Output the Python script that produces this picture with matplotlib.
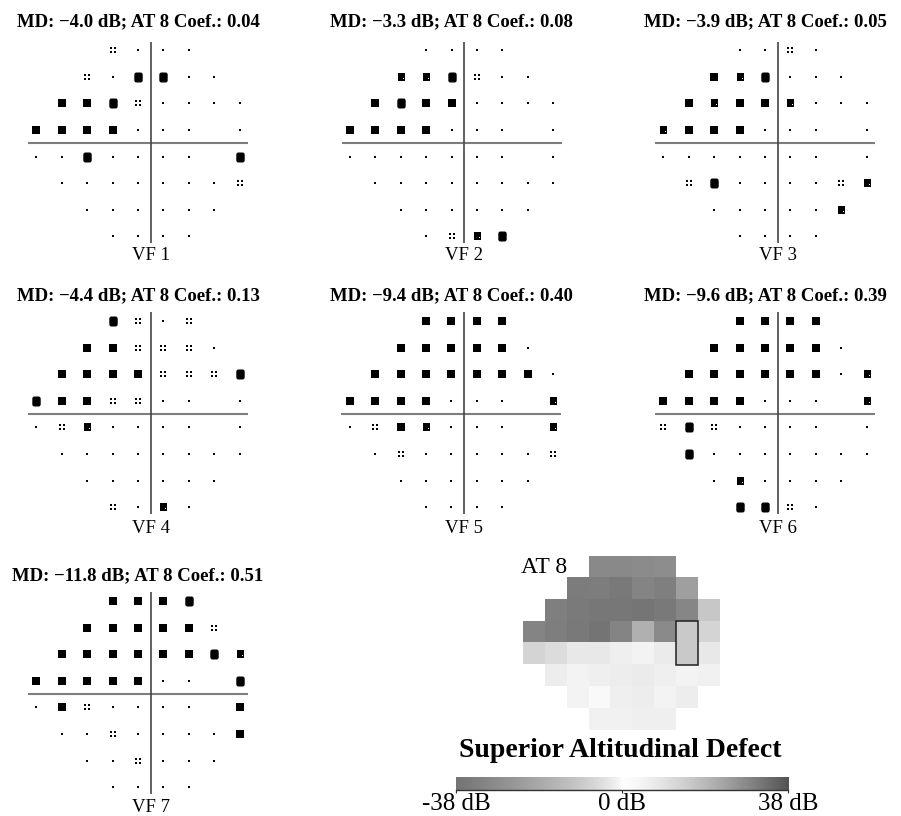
import numpy as np
import matplotlib
matplotlib.use('Agg')
import matplotlib.pyplot as plt
from matplotlib.path import Path
from matplotlib.colors import LinearSegmentedColormap
from matplotlib.patches import Rectangle

plt.rcParams['font.family'] = ['Liberation Serif', 'DejaVu Serif']

W, H = 901, 816

# ---------------- data ----------------
# 24-2 layout (columns present in each of the 8 rows; blind spot at column 7, rows 3-4)
row_cols = [
    [3, 4, 5, 6],
    [2, 3, 4, 5, 6, 7],
    [1, 2, 3, 4, 5, 6, 7, 8],
    [0, 1, 2, 3, 4, 5, 6, 8],
    [0, 1, 2, 3, 4, 5, 6, 8],
    [1, 2, 3, 4, 5, 6, 7, 8],
    [2, 3, 4, 5, 6, 7],
    [3, 4, 5, 6],
]

# probability symbol level: 0 = n.s., 1 = p<5%, 2 = p<2%, 3 = p<1%, 4 = p<0.5%
vf1 = [[1, 0, 0, 0],
       [1, 0, 3, 3, 0, 0],
       [4, 4, 3, 1, 0, 0, 0, 0],
       [4, 4, 4, 4, 0, 0, 0, 0],
       [0, 0, 3, 0, 0, 0, 0, 3],
       [0, 0, 0, 0, 0, 0, 0, 1],
       [0, 0, 0, 0, 0, 0],
       [0, 0, 0, 0]]
vf2 = [[0, 0, 0, 0],
       [2, 2, 3, 1, 0, 0],
       [4, 3, 4, 4, 0, 0, 0, 0],
       [4, 4, 4, 4, 0, 0, 0, 0],
       [0, 0, 0, 0, 0, 0, 0, 0],
       [0, 0, 0, 0, 0, 0, 0, 0],
       [0, 0, 0, 0, 0, 0],
       [0, 1, 2, 3]]
vf3 = [[0, 0, 1, 0],
       [4, 2, 3, 0, 0, 0],
       [4, 2, 4, 4, 2, 0, 0, 0],
       [2, 4, 4, 4, 0, 0, 0, 0],
       [0, 0, 0, 0, 0, 0, 0, 0],
       [1, 3, 0, 0, 0, 0, 1, 2],
       [0, 0, 0, 0, 0, 2],
       [0, 0, 0, 0]]
vf4 = [[3, 1, 0, 1],
       [4, 4, 1, 1, 1, 0],
       [4, 4, 4, 4, 1, 1, 1, 3],
       [3, 4, 4, 1, 1, 0, 0, 0],
       [0, 1, 2, 0, 0, 0, 0, 0],
       [0, 0, 0, 0, 0, 0, 0, 0],
       [0, 0, 0, 0, 0, 0],
       [1, 0, 2, 0]]
vf5 = [[4, 4, 4, 4],
       [4, 4, 4, 4, 4, 0],
       [4, 4, 4, 4, 4, 4, 4, 0],
       [4, 4, 4, 4, 0, 0, 0, 2],
       [0, 1, 4, 2, 0, 0, 0, 2],
       [0, 1, 0, 0, 0, 0, 0, 1],
       [0, 0, 0, 0, 0, 0],
       [0, 0, 0, 0]]
vf6 = [[4, 4, 4, 4],
       [4, 4, 4, 4, 4, 0],
       [4, 4, 4, 4, 4, 4, 0, 2],
       [4, 4, 4, 4, 0, 0, 0, 2],
       [1, 3, 1, 0, 0, 0, 0, 0],
       [3, 0, 0, 0, 0, 0, 0, 0],
       [0, 2, 0, 0, 0, 0],
       [3, 3, 1, 0]]
vf7 = [[4, 4, 4, 3],
       [4, 4, 4, 4, 4, 1],
       [4, 4, 4, 4, 4, 4, 3, 2],
       [4, 4, 4, 4, 4, 0, 0, 3],
       [0, 4, 1, 0, 0, 0, 0, 4],
       [0, 0, 1, 0, 0, 0, 0, 4],
       [0, 0, 1, 0, 0, 0],
       [0, 0, 0, 0]]

vf_fields = [vf1, vf2, vf3, vf4, vf5, vf6, vf7]
vf_md = [-4.0, -3.3, -3.9, -4.4, -9.4, -9.6, -11.8]
vf_coef = [0.04, 0.08, 0.05, 0.13, 0.40, 0.39, 0.51]
vf_names = ['VF 1', 'VF 2', 'VF 3', 'VF 4', 'VF 5', 'VF 6', 'VF 7']

# archetype 8 (superior altitudinal defect), total deviation in dB
at8 = [[-29.7, -29.7, -29.0, -28.3],
       [-34.5, -34.2, -35.7, -31.5, -33.4, -22.1],
       [-33.4, -35.3, -36.8, -36.5, -37.2, -35.7, -30.8, -10.1],
       [-31.5, -33.8, -35.7, -38.0, -31.5, -16.9, -29.3, -7.1],
       [-6.9, -5.3, -2.9, -2.9, -1.7, -1.1, -2.2, -2.9],
       [-1.9, -1.1, -1.6, -1.9, -2.2, -1.6, -1.1, -1.3],
       [-1.1, -0.5, -1.6, -1.9, -1.1, -1.9],
       [-1.3, -1.3, -1.7, -1.6]]
at_name = 'AT 8'
at_title = 'Superior Altitudinal Defect'
cbar_ticks = [-38, 0, 38]
cbar_labels = ['-38 dB', '0 dB', '38 dB']

# ---------------- styling ----------------
fig = plt.figure(figsize=(W / 100, H / 100), dpi=100)


def px_axes(left, top, width, height):
    return fig.add_axes([left / W, 1 - (top + height) / H, width / W, height / H])


def ftext(x, y, s, **kw):
    fig.text(x / W, 1 - y / H, s, **kw)


def rect_verts(x0, y0, x1, y1, ccw=True):
    v = [(x0, y0), (x1, y0), (x1, y1), (x0, y1)]
    if not ccw:
        v = v[::-1]
    return v + [v[0]]


def compound(rects):
    verts, codes = [], []
    for r in rects:
        vv = rect_verts(*r[:4], ccw=r[4] if len(r) > 4 else True)
        verts += vv
        codes += [Path.MOVETO] + [Path.LINETO] * 3 + [Path.CLOSEPOLY]
    return Path(verts, codes)


def rounded_rect(hw, hh, r):
    verts = [(-hw + r, -hh), (hw - r, -hh), (hw, -hh), (hw, -hh + r),
             (hw, hh - r), (hw, hh), (hw - r, hh), (-hw + r, hh),
             (-hw, hh), (-hw, hh - r), (-hw, -hh + r), (-hw, -hh), (-hw + r, -hh)]
    codes = [Path.MOVETO, Path.LINETO, Path.CURVE3, Path.CURVE3, Path.LINETO,
             Path.CURVE3, Path.CURVE3, Path.LINETO, Path.CURVE3, Path.CURVE3,
             Path.LINETO, Path.CURVE3, Path.CURVE3]
    return Path(verts, codes)


m_dot = compound([(-0.5, -0.5, 0.5, 0.5)])
m_four = compound([(-0.5, -0.5, -0.15, -0.15), (0.15, -0.5, 0.5, -0.15),
                   (-0.5, 0.15, -0.15, 0.5), (0.15, 0.15, 0.5, 0.5)])
m_e = compound([(-0.42, -0.45, 0.45, 0.5),
                (-0.05, 0.08, 0.2, 0.18, False),
                (0.22, -0.22, 0.34, -0.1, False)])
m_blob = rounded_rect(0.42, 0.5, 0.22)
m_sq = compound([(-0.5, -0.5, 0.5, 0.5)])
markers = [(m_dot, 1.7), (m_four, 4.0), (m_e, 6.0), (m_blob, 7.2), (m_sq, 5.3)]

col_px, row_px = 25.4, 26.6
centers = [(150.7, 143.3), (464.3, 143.3), (777.7, 143.3),
           (150.7, 414.0), (464.0, 414.0), (777.7, 414.0),
           (150.7, 694.0)]
title_base = [26.7, 26.7, 26.7, 300.0, 300.0, 300.0, 580.0]
label_base = [259.5, 259.5, 259.5, 533.0, 533.0, 533.0, 811.5]

for k, field in enumerate(vf_fields):
    cx, cy = centers[k]
    ax = px_axes(cx - 5 * col_px, cy - 4 * row_px, 9 * col_px, 8 * row_px)
    ax.set_xlim(-0.5, 8.5)
    ax.set_ylim(7.5, -0.5)
    ax.axis('off')
    ax.plot([-0.33, 8.33], [3.5, 3.5], color='#7d7d7d', lw=1.5, solid_capstyle='butt')
    ax.plot([4.5, 4.5], [-0.32, 7.25], color='#454545', lw=1.2, solid_capstyle='butt')
    for lev in range(5):
        xs, ys = [], []
        for r, cols in enumerate(row_cols):
            for c, v in zip(cols, field[r]):
                if v == lev:
                    xs.append(c)
                    ys.append(r)
        mp, ms = markers[lev]
        ax.scatter(xs, ys, marker=mp, s=ms ** 2, c='black', linewidths=0)
    ftext(cx - 12.7, title_base[k],
          f'MD: \u2212{abs(vf_md[k]):.1f} dB; AT 8 Coef.: {vf_coef[k]:.2f}',
          ha='center', va='baseline', fontsize=13.5, fontweight='bold')
    ftext(cx, label_base[k], vf_names[k], ha='center', va='baseline', fontsize=13.5)

# colormap: grey - white - dark grey
tt = np.linspace(0, 1, 101)
cl = []
for t in tt:
    if t <= 0.5:
        d = (0.5 - t) / 0.5
        g = 255 - 139 * d ** 0.7
    else:
        d = (t - 0.5) / 0.5
        g = 255 - 172 * d ** 1.3
    cl.append((t, (g / 255, g / 255, g / 255)))
cmap = LinearSegmentedColormap.from_list('gw', cl)
cmap.set_bad((1, 1, 1, 0))

grid = np.full((8, 9), np.nan)
for r, cols in enumerate(row_cols):
    for c, v in zip(cols, at8[r]):
        grid[r, c] = v

cw, ch = 21.85, 21.75
hax = px_axes(523.3, 556.0, 9 * cw, 8 * ch)
hax.imshow(np.ma.masked_invalid(grid), cmap=cmap, vmin=-38, vmax=38,
           extent=(-0.5, 8.5, 7.5, -0.5), aspect='auto', interpolation='nearest')
hax.add_patch(Rectangle((6.5, 2.5), 1, 2, facecolor='#c9c9c9', edgecolor='#202020', lw=1.1))
hax.set_xlim(-0.5, 8.5)
hax.set_ylim(7.5, -0.5)
hax.axis('off')

ftext(544, 573.3, at_name, ha='center', va='baseline', fontsize=17)
ftext(620, 756.7, at_title, ha='center', va='baseline', fontsize=20, fontweight='bold')

cax = px_axes(456, 777.0, 332.3, 12.5)
cax.imshow(np.linspace(-38, 38, 512)[None, :], cmap=cmap, vmin=-38, vmax=38,
           extent=(-38, 38, 0, 1), aspect='auto')
cax.set_xlim(-38, 38)
cax.set_yticks([])
for s in ['top', 'left', 'right']:
    cax.spines[s].set_visible(False)
cax.spines['bottom'].set_color('#333333')
cax.spines['bottom'].set_linewidth(1.0)
cax.set_xticks(cbar_ticks)
cax.set_xticklabels(cbar_labels)
cax.tick_params(axis='x', length=2.5, width=0.8, color='#333333', labelsize=18, pad=0.2)

fig.savefig('out.png', dpi=100)
